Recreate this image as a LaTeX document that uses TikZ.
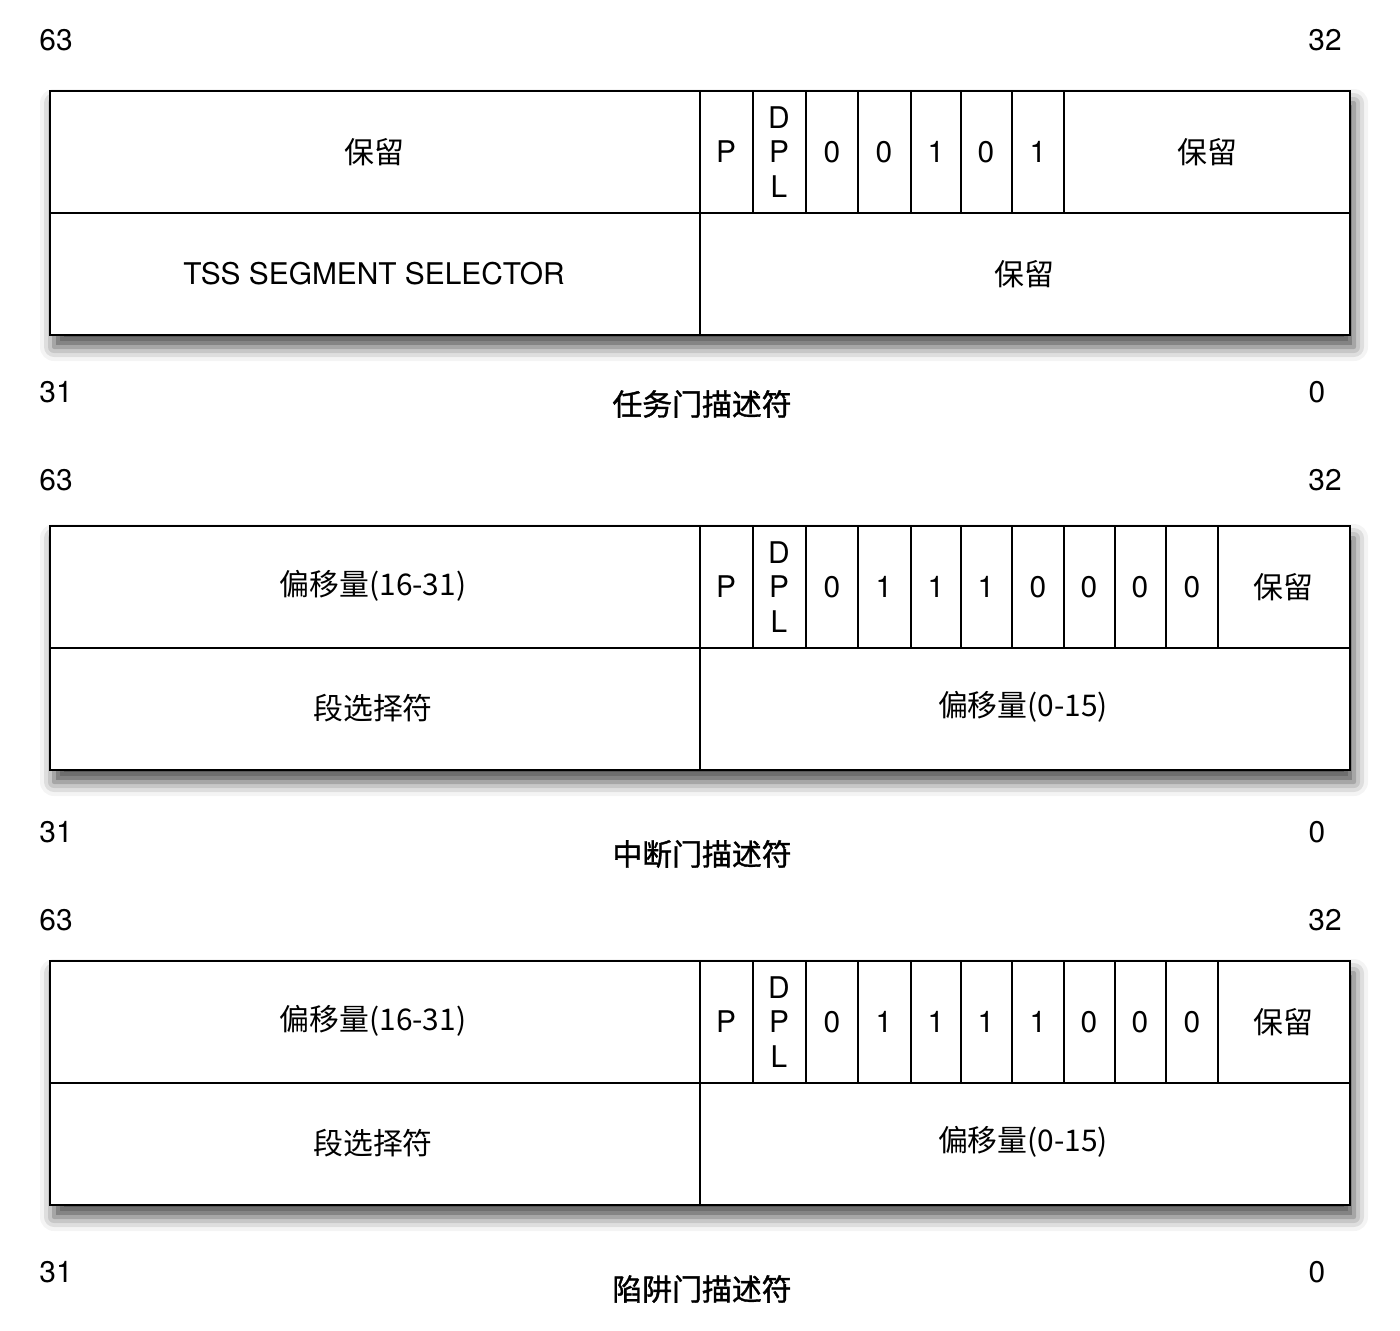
\documentclass[tikz,border=0pt]{standalone}
\usepackage{fontspec}
\setmainfont{TeX Gyre Heros}
\newfontfamily\cjk{Noto Sans CJK SC}
\newfontfamily\cjkmid[FakeBold=1.2]{Noto Sans CJK SC}
\usepackage{tikz}
\usetikzlibrary{positioning,shadows.blur}

\tikzset{
  frame/.style={line width=1.3pt},
  grid/.style={line width=1.1pt},
  card/.style={fill=white, blur shadow={shadow xshift=0.08cm, shadow yshift=-0.24cm, shadow blur radius=0.28cm, shadow opacity=70}},
  txt/.style={font=\fontsize{17}{19.8}\selectfont, inner sep=0pt},
  cn/.style={font=\cjk\fontsize{17}{20}\selectfont, inner sep=0pt},
  gatetitle/.style={font=\cjkmid\fontsize{17}{20}\selectfont, inner sep=0pt},
}

\begin{document}
\begin{tikzpicture}[x=0.02cm, y=-0.02cm]
    \useasboundingbox (0,0) rectangle (1400,1330);

    % task gate
    \fill[card] (50,91) rectangle (1350,335);
    \draw[grid] (50,213) -- (1350,213);
    \draw[grid] (700,91) -- (700,335);
    \foreach \bx in {753,806,858,911,961,1012,1064}
        \draw[grid] (\bx,91) -- (\bx,213);
    \draw[frame] (50,91) rectangle (1350,335);

    \node[txt] (tgHigh) at (56,40) {63};
    \node[txt] (tgMid) at (1325,40) {32};
    \node[cn] (tgRes) at (374,152) {保留};
    \node[txt] (tgP) at (726,152) {P};
    \node[txt, align=center] (tgDpl) at (779,152) {D\\P\\L};
    \foreach \bx/\bv [count=\i] in {832/0,884/0,936/1,986/0,1038/1}
        \node[txt] (tgBit\i) at (\bx,152) {\bv};
    \node[cn] (tgResR) at (1207,152) {保留};
    \node[txt] (tgSel) at (374,274) {TSS SEGMENT SELECTOR};
    \node[cn] (tgResLow) at (1024,274) {保留};
    \node[txt] (tgLow) at (56,392) {31};
    \node[txt] (tgZero) at (1317,392) {0};
    \node[gatetitle] (tgName) at (702,404) {任务门描述符};

    % interrupt gate
    \fill[card] (50,526) rectangle (1350,770);
    \draw[grid] (50,648) -- (1350,648);
    \draw[grid] (700,526) -- (700,770);
    \foreach \bx in {753,806,858,911,961,1012,1064,1115,1166,1218}
        \draw[grid] (\bx,526) -- (\bx,648);
    \draw[frame] (50,526) rectangle (1350,770);

    \node[txt] (igHigh) at (56,480) {63};
    \node[txt] (igMid) at (1325,480) {32};
    \node[cn] (igOff) at (373,586) {偏移量(16-31)};
    \node[txt] (igP) at (726,587) {P};
    \node[txt, align=center] (igDpl) at (779,587) {D\\P\\L};
    \foreach \bx/\bv [count=\i] in {832/0,884/1,936/1,986/1,1038/0,1089/0,1140/0,1192/0}
        \node[txt] (igBit\i) at (\bx,587) {\bv};
    \node[cn] (igRes) at (1283,587) {保留};
    \node[cn] (igSel) at (373,708) {段选择符};
    \node[cn] (igOffLow) at (1023,707) {偏移量(0-15)};
    \node[txt] (igLow) at (56,832) {31};
    \node[txt] (igZero) at (1317,832) {0};
    \node[gatetitle] (igName) at (702,854) {中断门描述符};

    % trap gate
    \fill[card] (50,961) rectangle (1350,1205);
    \draw[grid] (50,1083) -- (1350,1083);
    \draw[grid] (700,961) -- (700,1205);
    \foreach \bx in {753,806,858,911,961,1012,1064,1115,1166,1218}
        \draw[grid] (\bx,961) -- (\bx,1083);
    \draw[frame] (50,961) rectangle (1350,1205);

    \node[txt] (trHigh) at (56,920) {63};
    \node[txt] (trMid) at (1325,920) {32};
    \node[cn] (trOff) at (373,1021) {偏移量(16-31)};
    \node[txt] (trP) at (726,1022) {P};
    \node[txt, align=center] (trDpl) at (779,1022) {D\\P\\L};
    \foreach \bx/\bv [count=\i] in {832/0,884/1,936/1,986/1,1038/1,1089/0,1140/0,1192/0}
        \node[txt] (trBit\i) at (\bx,1022) {\bv};
    \node[cn] (trRes) at (1283,1022) {保留};
    \node[cn] (trSel) at (373,1143) {段选择符};
    \node[cn] (trOffLow) at (1023,1142) {偏移量(0-15)};
    \node[txt] (trLow) at (56,1272) {31};
    \node[txt] (trZero) at (1317,1272) {0};
    \node[gatetitle] (trName) at (702,1289) {陷阱门描述符};
\end{tikzpicture}
\end{document}
